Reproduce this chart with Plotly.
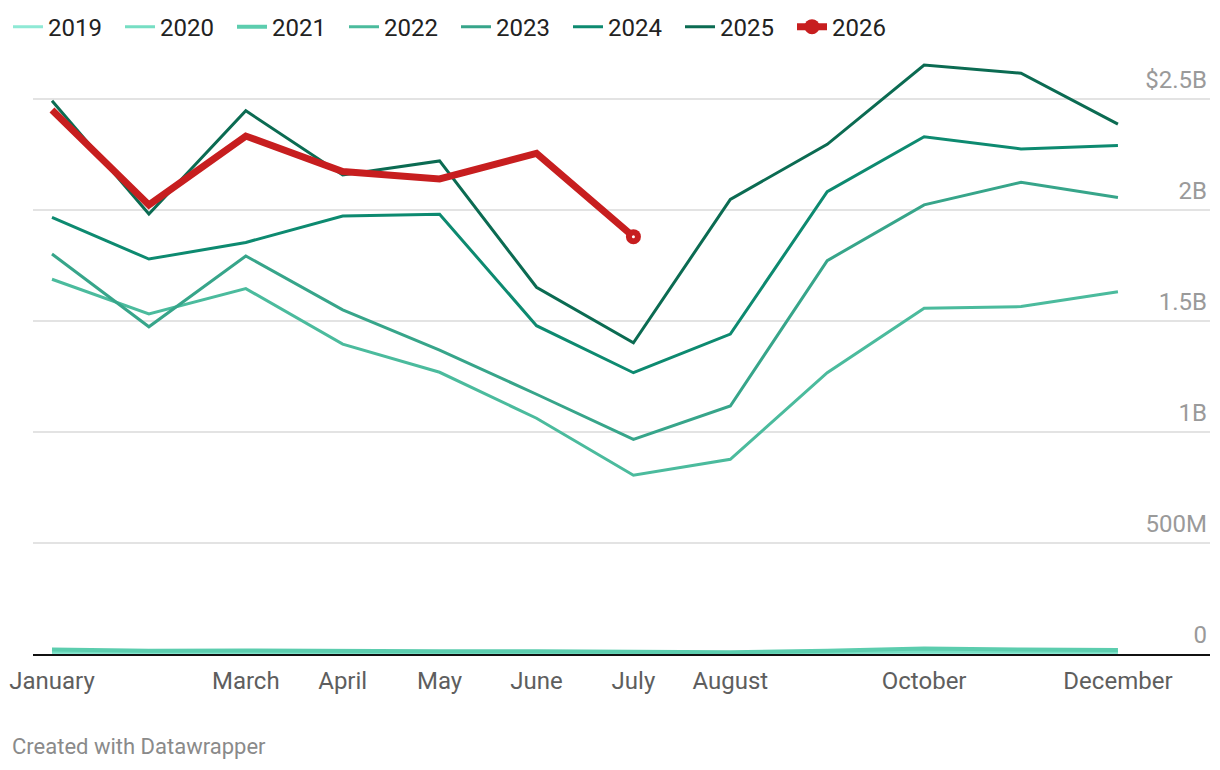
import plotly.graph_objects as go

months = ["January", "February", "March", "April", "May", "June", "July",
          "August", "September", "October", "November", "December"]
shown_months = ["January", "March", "April", "May", "June", "July",
                "August", "October", "December"]

# monthly values, billions of dollars
y2019 = [0.004, 0.003, 0.004, 0.003, 0.003, 0.003, 0.002, 0.002, 0.003, 0.004, 0.004, 0.004]
y2020 = [0.010, 0.008, 0.009, 0.008, 0.007, 0.007, 0.005, 0.005, 0.008, 0.012, 0.011, 0.010]
y2021 = [0.020, 0.015, 0.016, 0.013, 0.012, 0.012, 0.008, 0.008, 0.015, 0.025, 0.020, 0.018]
y2022 = [1.688, 1.532, 1.646, 1.396, 1.269, 1.062, 0.805, 0.877, 1.267, 1.557, 1.565, 1.632]
y2023 = [1.802, 1.474, 1.793, 1.550, 1.369, 1.170, 0.967, 1.117, 1.772, 2.023, 2.125, 2.056]
y2024 = [1.967, 1.779, 1.854, 1.973, 1.981, 1.479, 1.267, 1.441, 2.083, 2.330, 2.275, 2.290]
y2025 = [2.492, 1.982, 2.447, 2.158, 2.221, 1.652, 1.402, 2.048, 2.296, 2.653, 2.616, 2.387]
y2026 = [2.450, 2.023, 2.333, 2.173, 2.140, 2.255, 1.880]

y_tickvals = [0, 0.5, 1, 1.5, 2, 2.5]
y_ticktext = ["0", "500M", "1B", "1.5B", "2B", "$2.5B"]

series = [
    ("2019", y2019, "#8ee9d5"),
    ("2020", y2020, "#76dec3"),
    ("2021", y2021, "#5ccdae"),
    ("2022", y2022, "#4bbb9d"),
    ("2023", y2023, "#37a58a"),
    ("2024", y2024, "#0d8a70"),
    ("2025", y2025, "#0b6b52"),
]

fig = go.Figure()

for name, vals, color in series:
    fig.add_trace(go.Scatter(
        x=months, y=vals, name=name, mode="lines",
        line=dict(color=color, width=3 if name != "2021" else 4),
        hoverinfo="skip"
    ))

red = "#c71e1f"
fig.add_trace(go.Scatter(
    x=months[:len(y2026)], y=y2026, name="2026", mode="lines",
    line=dict(color=red, width=7), legendgroup="2026", showlegend=False,
    hoverinfo="skip"
))
# end point dot, also carries the legend entry
fig.add_trace(go.Scatter(
    x=[months[len(y2026) - 1]], y=[y2026[-1]], name="2026", mode="lines+markers",
    line=dict(color=red, width=7), legendgroup="2026",
    marker=dict(color=red, size=15, symbol="circle"),
    hoverinfo="skip"
))
fig.add_trace(go.Scatter(
    x=[months[len(y2026) - 1]], y=[y2026[-1]], mode="markers",
    marker=dict(color="white", size=3), showlegend=False, hoverinfo="skip"
))

# page body has an 8px margin, so the figure is drawn 8px smaller
fig.update_layout(
    width=1212, height=762,
    margin=dict(l=25, r=10, t=52, b=116),
    paper_bgcolor="white", plot_bgcolor="white",
    font=dict(family="Roboto", size=24, color="#333333"),
    showlegend=True,
    legend=dict(
        orientation="h", xref="container", yref="container",
        x=0, y=0.975, xanchor="left", yanchor="middle",
        font=dict(size=24, color="#222222"),
        entrywidth=67, traceorder="normal",
    ),
    xaxis=dict(
        type="category", range=[-0.196, 11.95], automargin=False,
        tickmode="array", tickvals=shown_months, ticktext=shown_months,
        showgrid=False, ticks="", showline=True, linecolor="#111111", linewidth=2,
        tickfont=dict(size=24, color="#5e5e5e"), ticklabelstandoff=4,
        zeroline=False,
    ),
    yaxis=dict(
        range=[0, 2.6757], side="right", ticklabelposition="inside", automargin=False,
        tickmode="array", tickvals=y_tickvals, ticktext=y_ticktext,
        showgrid=True, gridcolor="#e3e3e3", gridwidth=2, zeroline=False,
        ticks="", tickfont=dict(size=24, color="#9a9a9a"),
        ticklabelshift=-19,
    ),
    annotations=[dict(
        text="Created with Datawrapper", xref="paper", yref="paper",
        x=-0.0195, y=-0.1549, xanchor="left", yanchor="middle", showarrow=False,
        font=dict(size=22, color="#8a8a8a"),
    )],
)

fig.write_html("out.html")
